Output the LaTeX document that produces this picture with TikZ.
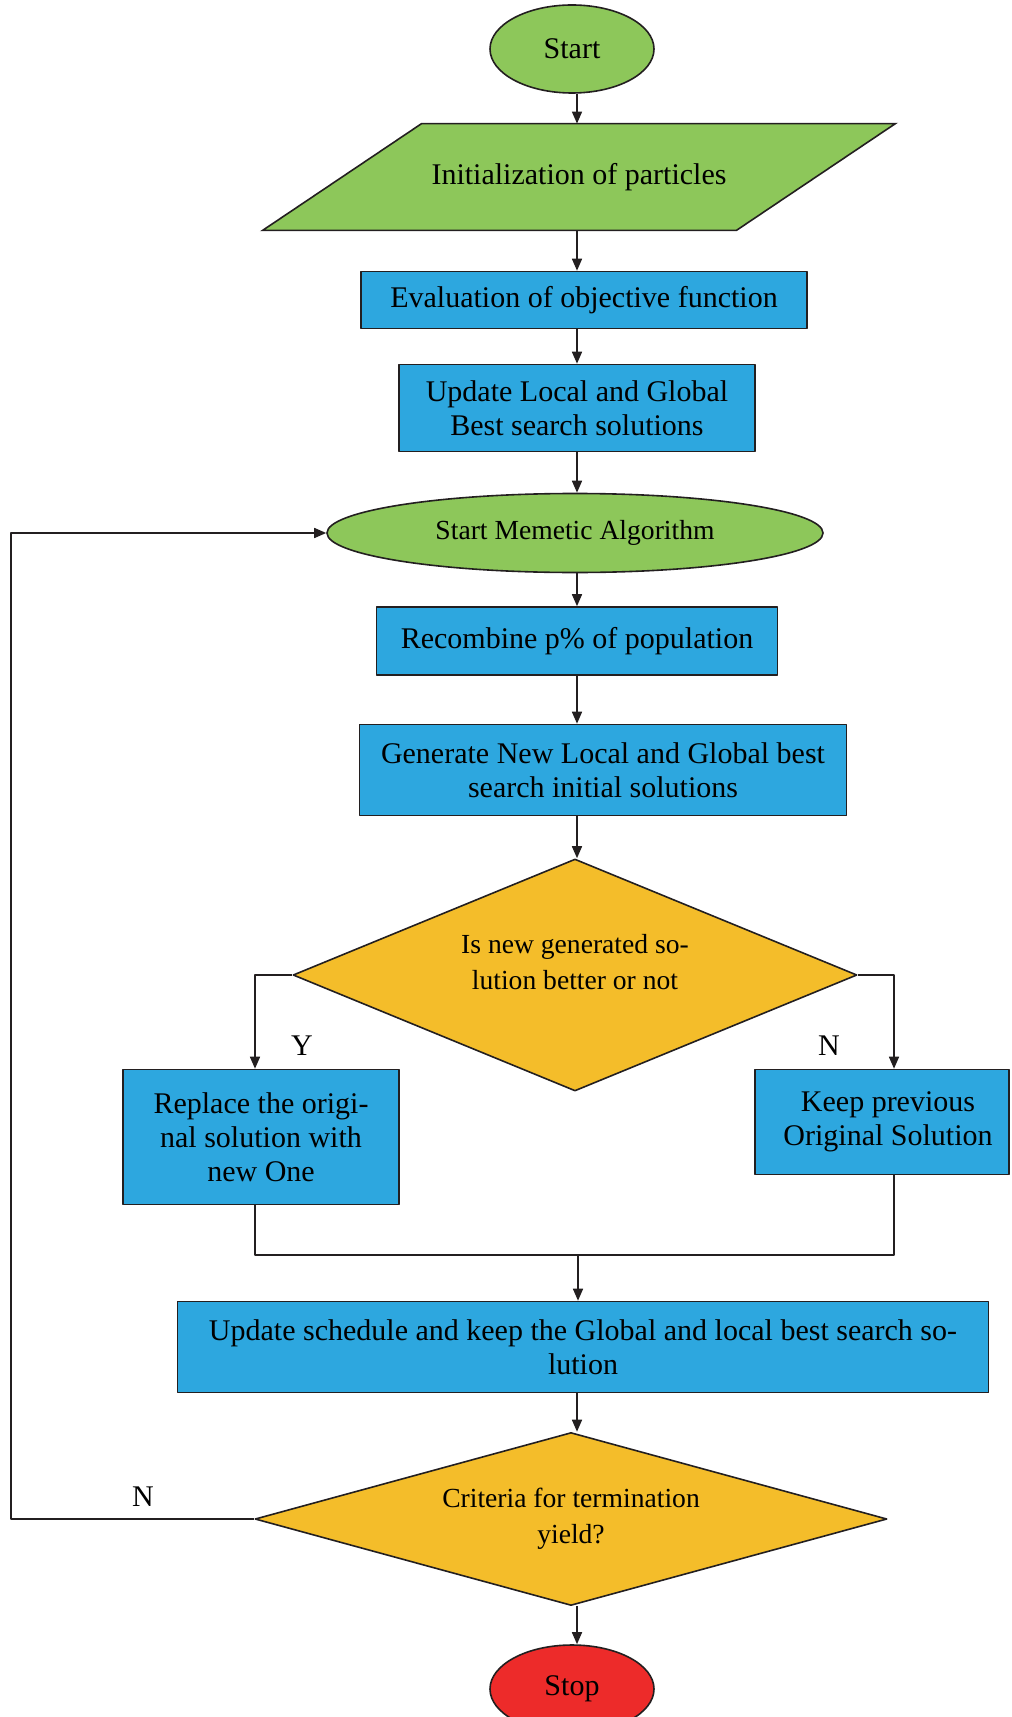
\documentclass[tikz,border=0pt]{standalone}
\usepackage{fontspec}
\setmainfont{Liberation Serif}
\usetikzlibrary{shapes.geometric,arrows.meta,backgrounds}
\definecolor{flowgreen}{RGB}{141,199,90}
\definecolor{flowblue}{RGB}{45,167,223}
\definecolor{flowyellow}{RGB}{244,189,42}
\definecolor{flowred}{RGB}{237,43,42}
\definecolor{flowline}{RGB}{35,31,32}
\newcommand{\boxfont}{\fontsize{15}{17}\selectfont}
\newcommand{\smallfont}{\fontsize{13.8}{18}\selectfont}
\begin{document}
\begin{tikzpicture}[x=0.5pt, y=-0.5pt, line join=round, >={Triangle[length=6pt,width=5pt]},
		box/.style={rectangle, draw=flowline, line width=0.8pt, fill=flowblue, align=center, font=\boxfont, inner sep=0pt},
		term/.style={ellipse, draw=flowline, line width=0.8pt, fill=flowgreen, align=center, inner sep=0pt},
		io/.style={rectangle, font=\boxfont, inner sep=0pt},
		dec/.style={diamond, draw=flowline, line width=0.8pt, fill=flowyellow, align=center, font=\smallfont, inner sep=0pt},
		lbl/.style={font=\boxfont, inner sep=0pt},
		arr/.style={->, draw=flowline, line width=0.8pt},
		link/.style={draw=flowline, line width=0.8pt}]
		\useasboundingbox (0,0) rectangle (1011,1717);
		% main column
		\node[term, font=\boxfont, minimum width=82pt, minimum height=44pt] (start) at (572,49) {Start};
		\node[io, minimum width=236.5pt, minimum height=53pt] (init) at (579,177) {Initialization of particles};
		\node[box, minimum width=223pt, minimum height=28.5pt] (eval) at (584,300) {Evaluation of objective function};
		\node[box, minimum width=178pt, minimum height=43.5pt] (upd) at (577,408) {Update Local and Global\\Best search solutions};
		\node[term, font=\smallfont, minimum width=248pt, minimum height=39.5pt] (mem) at (575,533) {Start Memetic Algorithm};
		\node[box, minimum width=200.5pt, minimum height=34pt] (recomb) at (577,641) {Recombine p\% of population};
		\node[box, minimum width=243.5pt, minimum height=45.5pt] (gen) at (603,770) {Generate New Local and Global best\\search initial solutions};
		\node[dec, aspect=2.43, minimum width=282pt, minimum height=116pt, text depth=13pt] (better) at (575,975) {Is new generated so-\\lution better or not};
		\node[box, minimum width=138pt, minimum height=67.5pt] (repl) at (261,1137) {Replace the origi-\\nal solution with\\new One};
		\node[box, minimum width=127pt, minimum height=52.5pt] (keep) at (882,1122) {\hspace*{6pt}Keep previous\\\hspace*{6pt}Original Solution};
		\node[box, minimum width=405.5pt, minimum height=45.5pt] (sched) at (583,1347) {Update schedule and keep the Global and local best search so-\\lution};
		\node[dec, aspect=3.65, minimum width=316pt, minimum height=86.5pt] (crit) at (571,1519) {Criteria for termination\\yield?};
		\node[term, font=\boxfont, fill=flowred, minimum width=82pt, minimum height=44pt] (stop) at (572,1689) {Stop};
		% parallelogram behind the input node
		\begin{scope}[on background layer]
			\draw[link, fill=flowgreen] ([xshift=-39.75pt]init.south west) -- ([xshift=-39.75pt]init.south east) -- ([xshift=39.75pt]init.north east) -- ([xshift=39.75pt]init.north west) -- cycle;
		\end{scope}
		% spine and helpers
		\coordinate (axis) at (577,0);
		\coordinate (join) at (578,1255);
		\coordinate (back) at (11,1519);
		\draw[arr] (start.south -| axis) -- (init.north -| axis);
		\draw[arr] (init.south -| axis) -- (eval.north -| axis);
		\draw[arr] (eval.south -| axis) -- (upd.north -| axis);
		\draw[arr] (upd.south -| axis) -- (mem.north -| axis);
		\draw[arr] (mem.south -| axis) -- (recomb.north -| axis);
		\draw[arr] (recomb.south -| axis) -- (gen.north -| axis);
		\draw[arr] (gen.south -| axis) -- (better.north -| axis);
		\draw[arr] (better.west) -| ([xshift=-3pt]repl.north);
		\draw[arr] (better.east) -| ([xshift=6pt]keep.north);
		\draw[link] ([xshift=-3pt]repl.south) |- (join) -| ([xshift=6pt]keep.south);
		\draw[arr] (join) -- (join |- sched.north);
		\draw[arr] (sched.south -| axis) -- (crit.north -| axis);
		\draw[arr] (crit.south -| axis) -- (stop.north -| axis);
		\draw[arr] (crit.west) -- (back) |- (mem.west);
		% branch labels
		\node[lbl] (yes) at (302,1046) {Y};
		\node[lbl] (no) at (829,1046) {N};
		\node[lbl] (again) at (143,1497) {N};
	\end{tikzpicture}
\end{document}
